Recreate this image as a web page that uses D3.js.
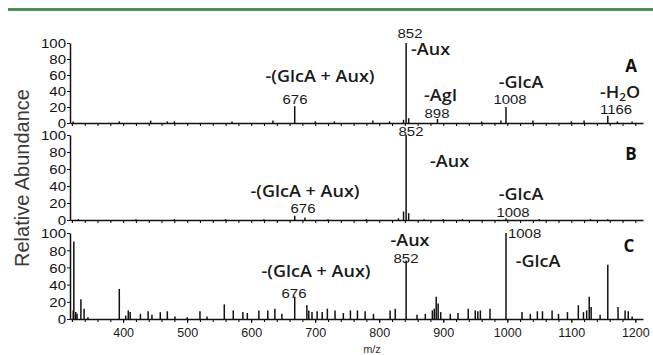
<!DOCTYPE html>
<html><head><meta charset="utf-8">
<script src="https://cdn.jsdelivr.net/npm/d3@7"></script>
<style>body{margin:0;background:#fff}svg{display:block}</style>
</head><body>
<svg id="c" width="653" height="355"></svg>
<script>
// ---- data (m/z as drawn on the axis, relative abundance %) ----
const peaksA = [[322,2],[394,2],[443,3],[469,2],[480,2],[570,2],[634,3],[668,21],[700,2],[730,2],[790,3],[816,2],[838,4],[842,100],[846,6],[891,5],[960,2],[990,3],[998,20],[1040,3],[1100,2],[1120,3],[1157,9],[1172,2],[1195,2]];
const peaksB = [[330,1],[420,1],[480,1],[560,1],[620,1],[668,5],[684,3],[720,1],[780,1],[830,2],[838,10],[842,100],[846,8],[870,1],[900,1],[930,1],[998,2],[1050,1],[1130,1],[1157,1]];
const peaksC = [[322,10],[323,90],[326,8],[328,6],[334,23],[339,12],[345,2],[394,35],[404,4],[408,10],[411,8],[427,6],[439,9],[445,5],[458,8],[469,9],[481,3],[500,2],[520,9],[531,3],[558,17],[572,10],[587,8],[594,7],[612,10],[626,10],[637,12],[648,6],[668,26],[687,16],[690,10],[695,8],[703,9],[711,8],[719,12],[731,10],[744,7],[755,10],[766,10],[778,9],[791,6],[817,10],[825,12],[842,68],[859,5],[872,6],[883,10],[886,12],[889,26],[892,18],[896,8],[911,6],[923,7],[939,12],[950,10],[954,9],[958,10],[973,12],[998,100],[1023,8],[1036,6],[1047,9],[1055,9],[1070,10],[1080,6],[1094,8],[1111,16],[1119,8],[1124,10],[1128,26],[1131,14],[1145,5],[1157,63],[1173,14],[1184,10],[1189,9],[1195,3]];
const yTicks = [0,20,40,60,80,100];
const xTickLabels = [400,500,600,700,800,900,1000,1100,1200];
const panelNames = ["A","B","C"];
const yLabel = "Relative Abundance";
const xLabel = "m/z";

const svg = d3.select("#c");
const x = d3.scaleLinear().domain([317,1212]).range([70,643]);
const panels = [
  {name:"A", data:peaksA, y:d3.scaleLinear().domain([0,100]).range([123,43])},
  {name:"B", data:peaksB, y:d3.scaleLinear().domain([0,100]).range([220,135])},
  {name:"C", data:peaksC, y:d3.scaleLinear().domain([0,100]).range([319,233])}
];

// green rule at top
svg.append("line").attr("x1",8).attr("x2",653).attr("y1",9.5).attr("y2",9.5)
  .attr("stroke","#4f8f55").attr("stroke-width",3);

function txt(str, px, py, o={}) {
  const t = svg.append("text")
    .attr("transform",`translate(${px},${py}) scale(${o.sx||1},1)`)
    .attr("text-anchor",o.anchor||"start")
    .attr("font-family",o.font||"'Liberation Sans', Arial, sans-serif")
    .attr("font-size",o.size||13)
    .attr("font-weight",o.weight||"normal")
    .attr("fill",o.fill||"#1a1a1a");
  if (o.ls) t.attr("letter-spacing",o.ls);
  t.text(str);
  return t;
}

panels.forEach((p,i) => {
  const g = svg.append("g");
  // minor x ticks
  const xa = d3.axisBottom(x).tickValues(d3.range(320,1212,20)).tickFormat("").tickSize(3).tickSizeOuter(0);
  const gx = g.append("g").attr("transform",`translate(0,${p.y(0)})`).call(xa);
  gx.select(".domain").attr("stroke","#111").attr("stroke-width",1.5);
  gx.selectAll(".tick line").attr("stroke","#111").attr("stroke-width",1.1);
  if (i === 2) {
    const xl = d3.axisBottom(x).tickValues(xTickLabels).tickFormat(d3.format("d")).tickSize(4).tickSizeOuter(0);
    const gl = g.append("g").attr("transform",`translate(0,${p.y(0)})`).call(xl);
    gl.select(".domain").remove();
    gl.selectAll(".tick line").attr("stroke","#111");
    gl.selectAll(".tick text").attr("font-family","'Liberation Sans', Arial, sans-serif")
      .attr("font-size",12.5).attr("fill","#1a1a1a").attr("y",9).attr("dy","0.71em");
  }
  // y axis
  const ya = d3.axisLeft(p.y).tickValues(yTicks).tickSize(3).tickSizeOuter(0);
  const gy = g.append("g").attr("transform",`translate(${x.range()[0]},0)`).call(ya);
  gy.select(".domain").attr("stroke","#111").attr("stroke-width",1.5);
  gy.selectAll(".tick line").attr("stroke","#111");
  gy.selectAll(".tick text").attr("font-family","'Liberation Sans', Arial, sans-serif")
    .attr("font-size",12).attr("fill","#111").attr("x",null)
    .attr("transform","translate(-4,1) scale(1.25,1)");
  // peaks
  g.append("g").selectAll("line").data(p.data).join("line")
    .attr("x1",d=>x(d[0])).attr("x2",d=>x(d[0]))
    .attr("y1",p.y(0)).attr("y2",d=>p.y(d[1]))
    .attr("stroke","#111").attr("stroke-width",1.5);
});

// axis titles
txt(yLabel, 0, 0, {size:20, fill:"#3a3a3a", anchor:"middle"})
  .attr("transform","translate(29,178) rotate(-90)");
txt(xLabel, 372, 353, {size:11, anchor:"middle", fill:"#333"});

// annotations
const OS = "'Open Sans', 'DejaVu Sans', sans-serif";
const ann = {font:OS, size:17, sx:1.06, anchor:"middle", fill:"#1a1a1a", weight:600};
const num = {size:13, sx:1.15, anchor:"middle", fill:"#1a1a1a"};
const pan = {font:OS, size:17, weight:"bold", anchor:"middle", fill:"#111"};
// panel A
txt("852", 410, 38, num);
txt("-Aux", 411, 55, Object.assign({}, ann, {anchor:"start"}));
txt("-(GlcA + Aux)", 320, 82, ann);
txt("676", 295, 104, num);
txt("-AgI", 424, 101, Object.assign({}, ann, {anchor:"start"}));
txt("898", 437, 118, num);
txt("-GlcA", 521, 88, ann);
txt("1008", 510, 104, num);
txt(panelNames[0], 631, 72, pan);
const h2o = txt("-H", 600, 98, Object.assign({}, ann, {anchor:"start"}));
h2o.append("tspan").attr("font-size",11).attr("dy",3).text("2");
h2o.append("tspan").attr("dy",-3).text("O");
txt("1166", 616, 114, num);
// panel B
txt("852", 411, 136, num);
txt("-Aux", 430, 167, Object.assign({}, ann, {anchor:"start"}));
txt("-(GlcA + Aux)", 305, 197, ann);
txt("676", 303, 213, num);
txt("-GlcA", 521, 200, ann);
txt("1008", 513, 217, num);
txt(panelNames[1], 631, 160, pan);
// panel C
txt("-Aux", 410, 246, ann);
txt("852", 406, 263, num);
txt("-(GlcA + Aux)", 316, 277, ann);
txt("676", 294, 298, num);
txt("1008", 508, 238, Object.assign({}, num, {anchor:"start"}));
txt("-GlcA", 538, 267, ann);
txt(panelNames[2], 629, 252, pan);
</script>
</body></html>
